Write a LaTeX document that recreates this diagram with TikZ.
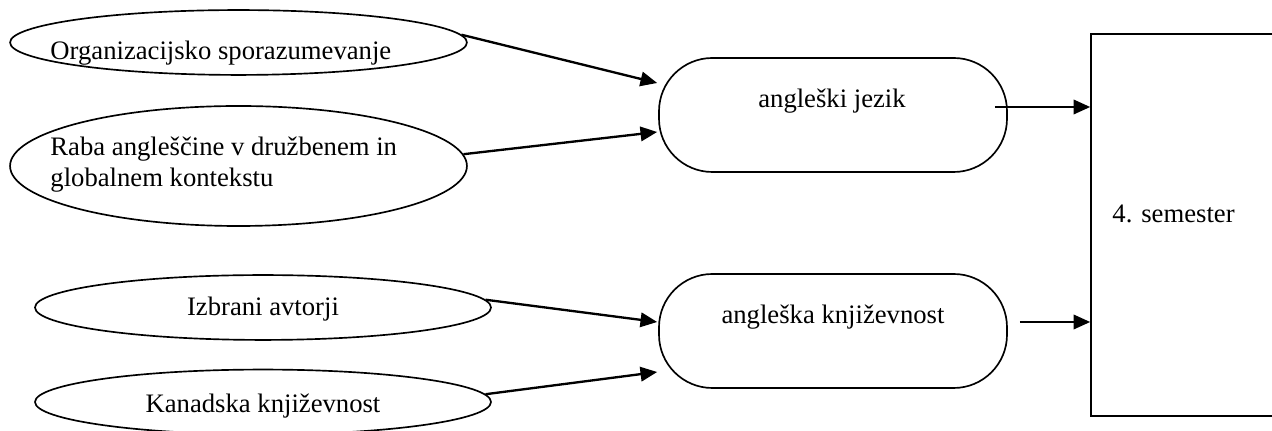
\documentclass[tikz,border=0pt]{standalone}
\usepackage{fontspec}
\setmainfont{Liberation Serif}
\usetikzlibrary{arrows.meta,shapes.geometric,calc}
\begin{document}
\begin{tikzpicture}[x=0.45pt,y=-0.45pt,
  oval/.style={draw,ellipse,line width=0.75pt,inner sep=0pt},
  roundbox/.style={draw,rounded corners=24pt,line width=0.75pt,inner sep=0pt},
  semrect/.style={draw,line width=0.75pt,inner sep=0pt},
  txt/.style={inner sep=0pt,font=\fontsize{12}{14}\selectfont},
  arr/.style={line width=1.05pt,-{Triangle[length=7.5pt,width=6.5pt]}}]
\useasboundingbox (0,0) rectangle (1272,431);
\clip (0,0) rectangle (1272,431);
% shapes
\node[oval,minimum width=205.6pt,minimum height=29.2pt] (e1) at (238.5,42.5) {};
\node[oval,minimum width=205.6pt,minimum height=54pt] (e2) at (238.5,166) {};
\node[oval,minimum width=205.2pt,minimum height=29.2pt] (e3) at (263,307.5) {};
\node[oval,minimum width=205.2pt,minimum height=29.2pt] (e4) at (263,402) {};
\node[roundbox,minimum width=156.6pt,minimum height=51.3pt] (aj) at (833,115) {};
\node[roundbox,minimum width=156.6pt,minimum height=51.3pt] (ak) at (833,331) {};
\node[semrect,minimum width=94pt,minimum height=171.9pt] (sem) at (1195.5,225) {};
% texts
\node[txt,anchor=base west] (t1) at (50,60) {Organizacijsko sporazumevanje};
\node[txt,anchor=base west,align=left] (t2) at (50,187) {Raba angleščine v družbenem in\\globalnem kontekstu};
\node[txt,anchor=base] (t3) at (263,316) {Izbrani avtorji};
\node[txt,anchor=base] (t4) at (263,413) {Kanadska književnost};
\node[txt,anchor=base] (t5) at (832,108) {angleški jezik};
\node[txt,anchor=base] (t6) at (833,324) {angleška književnost};
\node[txt,anchor=base west] (t7) at (1112,223) {4. semester};
% connectors
\draw[arr] (e1.2) -- ($(aj.west)+(-1,-32)$);
\draw[arr] (e2.3) -- ($(aj.west)+(-1,17)$);
\draw[arr] (e3.2) -- ($(ak.west)+(-1,-9)$);
\draw[arr] (e4.2) -- ($(ak.west)+(-1,41)$);
\coordinate (o1) at ($(aj.east)+(-13,-8)$);
\coordinate (o2) at ($(ak.east)+(12,-9)$);
\draw[arr] (o1) -- (o1 -| sem.west);
\draw[arr] (o2) -- (o2 -| sem.west);
\end{tikzpicture}
\end{document}
